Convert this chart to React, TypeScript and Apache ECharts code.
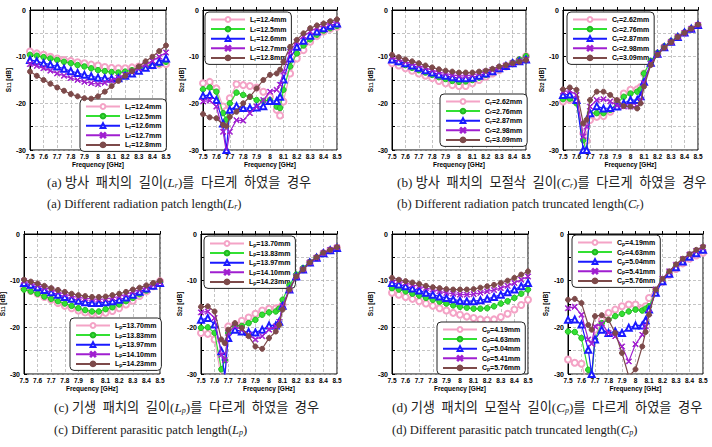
import React, { useEffect, useRef } from "react";
import * as echarts from "echarts";

// Frequency sample points (GHz)
const FREQ_S11 = [7.5, 7.55, 7.6, 7.65, 7.7, 7.75, 7.8, 7.85, 7.9, 7.95, 8.0, 8.05, 8.1, 8.15, 8.2, 8.25, 8.3, 8.35, 8.4, 8.45, 8.5];
const FREQ_S22 = [7.5, 7.55, 7.6, 7.65, 7.675, 7.7, 7.75, 7.8, 7.85, 7.9, 7.95, 8.0, 8.05, 8.075, 8.1, 8.15, 8.2, 8.25, 8.3, 8.35, 8.4, 8.45, 8.5];

// Parameter sweeps (legend entries)
const LR_NAMES = ["Lr=12.4mm", "Lr=12.5mm", "Lr=12.6mm", "Lr=12.7mm", "Lr=12.8mm"];
const CR_NAMES = ["Cr=2.62mm", "Cr=2.76mm", "Cr=2.87mm", "Cr=2.98mm", "Cr=3.09mm"];
const LP_NAMES = ["Lp=13.70mm", "Lp=13.83mm", "Lp=13.97mm", "Lp=14.10mm", "Lp=14.23mm"];
const CP_NAMES = ["Cp=4.19mm", "Cp=4.63mm", "Cp=5.04mm", "Cp=5.41mm", "Cp=5.76mm"];

// (a) radiation patch length Lr
const S11_LR = [
  [-8.9, -9.3, -9.6, -10.0, -10.4, -10.7, -10.9, -11.2, -11.4, -11.7, -11.9, -12.2, -12.4, -12.5, -12.5, -12.3, -12.1, -12.0, -11.9, -11.7, -11.6],
  [-9.6, -9.8, -10.1, -10.4, -10.7, -11.1, -11.4, -11.8, -12.1, -12.5, -12.9, -13.1, -13.3, -13.4, -13.2, -12.9, -12.5, -12.2, -11.8, -11.5, -11.1],
  [-10.7, -11.0, -11.4, -11.7, -12.1, -12.6, -13.1, -13.5, -13.9, -14.2, -14.5, -14.6, -14.7, -14.6, -14.1, -13.6, -13.0, -12.4, -11.8, -11.1, -10.4],
  [-11.6, -12.0, -12.5, -13.0, -13.6, -14.1, -14.6, -15.0, -15.4, -15.7, -15.9, -15.6, -15.1, -14.5, -13.9, -13.2, -12.5, -11.7, -10.9, -10.0, -9.1],
  [-13.2, -14.1, -15.0, -15.8, -16.6, -17.3, -18.0, -18.5, -18.9, -19.0, -18.5, -17.5, -16.3, -15.2, -14.1, -13.1, -12.1, -11.0, -10.0, -8.8, -7.6],
];
const S22_LR = [
  [-15.7, -15.4, -16.8, -20.7, -21.6, -18.9, -15.9, -16.1, -16.3, -16.6, -17.5, -18.6, -21.4, -22.6, -19.6, -13.6, -10.4, -8.6, -6.8, -5.6, -4.6, -4.0, -3.6],
  [-17.0, -16.6, -17.5, -22.1, -23.5, -20.0, -17.7, -18.2, -18.6, -19.3, -19.5, -19.3, -20.7, -21.0, -17.1, -12.1, -9.3, -7.6, -6.3, -5.3, -4.4, -3.9, -3.4],
  [-18.4, -18.2, -19.3, -24.3, -30.0, -21.4, -20.6, -21.0, -21.0, -20.9, -20.6, -19.5, -19.5, -18.6, -14.9, -10.4, -7.9, -6.6, -5.5, -4.6, -3.9, -3.4, -2.9],
  [-19.6, -19.4, -20.7, -26.1, -30.5, -26.1, -23.6, -23.7, -22.1, -20.7, -19.3, -17.5, -17.1, -16.0, -13.2, -8.9, -6.8, -5.6, -4.6, -3.8, -3.2, -2.8, -2.4],
  [-22.3, -23.0, -23.2, -24.6, -24.9, -22.9, -21.8, -20.0, -18.6, -16.8, -15.0, -13.9, -13.6, -12.8, -11.1, -7.9, -6.4, -5.0, -3.9, -3.3, -2.9, -2.4, -2.0],
];

// (b) radiation patch truncated length Cr
const S11_CR = [
  [-11.4, -11.9, -12.5, -13.0, -13.6, -14.1, -14.6, -15.2, -15.7, -16.1, -16.3, -16.3, -15.7, -15.0, -14.3, -13.6, -12.9, -12.1, -11.4, -10.7, -9.9],
  [-10.7, -11.2, -11.8, -12.4, -12.9, -13.4, -13.9, -14.4, -14.8, -15.2, -15.4, -15.3, -15.0, -14.5, -13.9, -13.3, -12.7, -12.0, -11.3, -10.6, -9.9],
  [-10.6, -11.0, -11.4, -11.9, -12.4, -12.9, -13.4, -13.8, -14.1, -14.4, -14.6, -14.6, -14.5, -14.1, -13.6, -13.1, -12.5, -12.0, -11.4, -11.0, -10.6],
  [-10.1, -10.6, -11.1, -11.5, -11.9, -12.4, -12.9, -13.3, -13.6, -13.9, -14.1, -14.1, -13.9, -13.6, -13.2, -12.8, -12.4, -11.9, -11.4, -11.0, -10.6],
  [-9.6, -10.1, -10.6, -11.0, -11.4, -11.9, -12.3, -12.7, -13.0, -13.2, -13.4, -13.4, -13.4, -13.2, -13.0, -12.6, -12.1, -11.8, -11.4, -11.1, -10.7],
];
const S22_CR = [
  [-19.6, -19.3, -19.6, -26.4, -28.0, -23.6, -22.9, -22.7, -21.8, -19.6, -17.9, -17.1, -17.0, -16.5, -13.6, -11.0, -9.3, -7.9, -6.8, -5.8, -4.9, -4.1, -3.3],
  [-19.1, -19.0, -20.0, -27.9, -30.5, -22.1, -22.1, -22.1, -21.4, -20.0, -18.6, -17.9, -17.5, -17.0, -13.6, -10.9, -9.2, -7.8, -6.7, -5.7, -4.8, -4.0, -3.2],
  [-18.2, -18.1, -19.3, -30.0, -30.0, -22.1, -20.6, -21.1, -21.0, -20.7, -20.0, -19.3, -19.3, -18.5, -15.4, -11.3, -9.4, -8.0, -6.8, -5.8, -4.8, -4.0, -3.2],
  [-17.5, -17.3, -18.2, -27.1, -25.0, -20.7, -19.3, -19.1, -19.6, -20.4, -20.7, -20.7, -20.7, -19.5, -15.7, -11.5, -9.5, -8.0, -6.9, -5.8, -4.9, -4.0, -3.2],
  [-17.0, -16.6, -17.1, -24.3, -23.5, -19.3, -17.5, -17.5, -18.2, -19.3, -20.6, -20.7, -21.1, -20.0, -16.4, -11.8, -9.6, -8.1, -6.9, -5.8, -4.9, -4.0, -3.1],
];

// (c) parasitic patch length Lp
const S11_LP = [
  [-11.6, -12.2, -12.8, -13.5, -14.1, -14.8, -15.4, -15.9, -16.4, -16.8, -17.1, -17.2, -16.9, -16.5, -15.9, -15.1, -14.3, -13.3, -12.3, -11.2, -10.1],
  [-11.9, -12.3, -12.8, -13.4, -13.9, -14.4, -14.9, -15.4, -15.9, -16.3, -16.6, -16.6, -16.1, -15.7, -15.1, -14.4, -13.7, -12.9, -12.1, -11.2, -10.3],
  [-10.5, -10.9, -11.4, -12.0, -12.5, -13.0, -13.5, -13.9, -14.3, -14.6, -14.8, -14.8, -14.6, -14.4, -14.1, -13.6, -13.0, -12.4, -11.7, -11.1, -10.5],
  [-10.1, -10.5, -11.0, -11.5, -11.9, -12.4, -12.9, -13.3, -13.6, -13.8, -13.9, -14.0, -13.9, -13.7, -13.4, -12.9, -12.4, -11.9, -11.4, -10.9, -10.4],
  [-9.8, -10.2, -10.6, -11.1, -11.6, -12.0, -12.4, -12.8, -13.1, -13.3, -13.5, -13.5, -13.4, -13.1, -12.8, -12.4, -11.9, -11.5, -11.0, -10.5, -10.0],
];
const S22_LP = [
  [-21.2, -21.4, -22.6, -31.0, -32.0, -19.8, -19.4, -18.6, -17.9, -17.1, -16.4, -16.0, -15.9, -15.8, -15.2, -11.9, -9.1, -7.6, -6.1, -5.1, -4.1, -3.5, -3.0],
  [-20.1, -20.0, -21.2, -29.0, -27.0, -21.2, -19.6, -19.7, -19.1, -18.4, -17.3, -16.8, -16.6, -16.0, -14.1, -11.0, -8.7, -7.3, -6.0, -5.0, -4.1, -3.5, -3.0],
  [-18.4, -18.0, -19.4, -25.1, -30.5, -22.3, -20.5, -20.9, -21.0, -21.1, -20.5, -19.6, -19.6, -18.8, -15.4, -11.9, -9.1, -7.6, -6.1, -5.1, -4.1, -3.5, -3.0],
  [-16.8, -16.6, -18.0, -25.9, -27.0, -21.2, -19.8, -20.5, -21.6, -22.6, -21.9, -20.5, -19.8, -18.8, -15.5, -11.9, -9.1, -7.6, -6.1, -5.1, -4.1, -3.4, -2.9],
  [-15.6, -15.5, -16.6, -22.6, -23.4, -20.5, -19.1, -20.1, -21.9, -24.1, -24.6, -22.3, -20.9, -19.5, -16.2, -11.9, -9.1, -7.6, -6.1, -5.0, -4.0, -3.4, -2.8],
];

// (d) parasitic patch truncated length Cp
const S11_CP = [
  [-12.6, -13.0, -13.5, -13.9, -14.4, -14.9, -15.4, -15.9, -16.4, -16.9, -17.3, -17.7, -18.0, -18.3, -18.4, -18.3, -17.8, -17.1, -16.2, -15.2, -14.1],
  [-11.6, -11.9, -12.3, -12.8, -13.2, -13.7, -14.1, -14.5, -14.9, -15.3, -15.6, -15.8, -16.0, -16.0, -15.9, -15.5, -14.9, -14.4, -13.7, -12.8, -11.9],
  [-10.5, -10.8, -11.2, -11.7, -12.1, -12.6, -13.0, -13.4, -13.7, -14.0, -14.3, -14.4, -14.4, -14.2, -13.9, -13.5, -13.0, -12.5, -11.9, -11.2, -10.5],
  [-9.8, -10.1, -10.5, -10.9, -11.2, -11.6, -11.9, -12.3, -12.6, -12.8, -13.0, -13.0, -12.9, -12.6, -12.3, -12.0, -11.6, -11.1, -10.5, -9.8, -9.1],
  [-9.4, -9.8, -10.1, -10.4, -10.7, -11.1, -11.4, -11.6, -11.8, -11.9, -11.9, -11.9, -11.8, -11.5, -11.2, -10.9, -10.5, -10.0, -9.4, -8.7, -8.0],
];
const S22_CP = [
  [-26.9, -27.6, -27.8, -33.0, -31.0, -20.5, -18.4, -16.9, -16.2, -15.5, -15.1, -15.1, -15.9, -15.5, -13.7, -11.6, -10.3, -8.8, -7.5, -6.3, -5.3, -4.6, -4.0],
  [-20.9, -21.0, -22.3, -29.1, -31.0, -22.6, -19.1, -18.4, -17.6, -17.1, -16.6, -16.2, -16.4, -16.0, -15.5, -12.3, -10.0, -8.4, -7.0, -5.9, -4.9, -4.1, -3.5],
  [-18.4, -18.3, -19.4, -24.8, -30.0, -22.6, -20.5, -21.2, -20.9, -21.2, -20.1, -19.6, -19.6, -18.5, -16.2, -12.6, -10.1, -8.5, -7.1, -5.9, -4.9, -4.1, -3.4],
  [-15.9, -15.6, -17.3, -22.6, -23.5, -19.8, -19.2, -21.2, -21.9, -24.1, -27.3, -23.6, -21.6, -19.8, -17.0, -11.9, -9.6, -8.0, -6.6, -5.4, -4.4, -3.6, -2.9],
  [-14.1, -13.9, -14.8, -19.5, -20.5, -17.6, -17.4, -18.4, -21.2, -25.5, -30.5, -29.0, -24.1, -21.0, -17.3, -11.9, -9.6, -8.0, -6.5, -5.3, -4.3, -3.4, -2.7],
];

// Labelled y ticks (dB)
const DB_LABELS = [0, -10, -20, -30];

const SANS = "'Liberation Sans', Arial, sans-serif";
const SERIF = "'Liberation Serif', 'Times New Roman', 'Noto Sans CJK KR', serif";

const CROSS = "path://M1,0L5,4L9,0L10,1L6,5L10,9L9,10L5,6L1,10L0,9L4,5L0,1Z";

// Trace styles, in sweep order
const TRACE_STYLES = [
  { color: "#f4a3c6", border: "#f4a3c6", symbol: "emptyCircle", size: 6 },
  { color: "#33e033", border: "#22b822", symbol: "circle", size: 5.5 },
  { color: "#1a1aff", border: "#1a1aff", symbol: "emptyTriangle", size: 6 },
  { color: "#a01fd0", border: "#a01fd0", symbol: CROSS, size: 5.5 },
  { color: "#7d4a4a", border: "#7d4a4a", symbol: "circle", size: 5 },
];

const PANELS = [
  { rect: { left: 30, top: 10, width: 136, height: 140 }, port: "11", names: LR_NAMES, freq: FREQ_S11, data: S11_LR, legend: { left: 80, top: 99 }, gap: 17 },
  { rect: { left: 203, top: 10, width: 134, height: 140 }, port: "22", names: LR_NAMES, freq: FREQ_S22, data: S22_LR, legend: { left: 205, top: 12 }, gap: 17 },
  { rect: { left: 392, top: 10, width: 134, height: 140 }, port: "11", names: CR_NAMES, freq: FREQ_S11, data: S11_CR, legend: { left: 440, top: 94 }, gap: 17 },
  { rect: { left: 563, top: 10, width: 135, height: 140 }, port: "22", names: CR_NAMES, freq: FREQ_S22, data: S22_CR, legend: { left: 567, top: 12 }, gap: 18 },
  { rect: { left: 24, top: 234, width: 136, height: 140 }, port: "11", names: LP_NAMES, freq: FREQ_S11, data: S11_LP, legend: { left: 70, top: 318 }, gap: 13 },
  { rect: { left: 201, top: 234, width: 136, height: 140 }, port: "22", names: LP_NAMES, freq: FREQ_S22, data: S22_LP, legend: { left: 204, top: 236 }, gap: 15 },
  { rect: { left: 392, top: 234, width: 136, height: 140 }, port: "11", names: CP_NAMES, freq: FREQ_S11, data: S11_CP, legend: { left: 437, top: 322 }, gap: 18 },
  { rect: { left: 568, top: 234, width: 135, height: 140 }, port: "22", names: CP_NAMES, freq: FREQ_S22, data: S22_CP, legend: { left: 572, top: 235 }, gap: 19 },
];

const CAPTIONS = [
  { x: 47, y: 184, size: 13.2, text: "(a) 방사  패치의  길이({i|L}{isub|r})를  다르게  하였을  경우" },
  { x: 47, y: 206, size: 12.6, text: "(a) Different radiation patch length({i|L}{isub|r})" },
  { x: 397, y: 184, size: 13.2, text: "(b) 방사  패치의  모절삭  길이({i|C}{isub|r})를  다르게  하였을  경우" },
  { x: 397, y: 206, size: 12.6, text: "(b) Different radiation patch truncated length({i|C}{isub|r})" },
  { x: 54, y: 409, size: 13.2, text: "(c) 기생  패치의  길이({i|L}{isub|p})를  다르게  하였을  경우" },
  { x: 54, y: 432, size: 12.6, text: "(c) Different parasitic patch length({i|L}{isub|p})" },
  { x: 392, y: 409, size: 13.2, text: "(d) 기생  패치의  모절삭  길이({i|C}{isub|p})를  다르게  하였을  경우" },
  { x: 392, y: 432, size: 12.6, text: "(d) Different parasitic patch truncated length({i|C}{isub|p})" },
];

const subRich = {
  sub: { fontSize: 5, fontWeight: "bold", fontFamily: SANS, color: "#000", verticalAlign: "bottom", lineHeight: 6, padding: [3, 0, 0, 0] },
};

function buildOption() {
  const grid: any[] = [];
  const xAxis: any[] = [];
  const yAxis: any[] = [];
  const series: any[] = [];
  const legend: any[] = [];

  PANELS.forEach((p, k) => {
    grid.push({
      ...p.rect,
      show: true,
      borderColor: "#000",
      borderWidth: 1,
      backgroundColor: "#fff",
      containLabel: false,
      outerBoundsMode: "none",
    });
    xAxis.push({
      gridIndex: k,
      type: "value",
      min: 7.5,
      max: 8.5,
      interval: 0.1,
      name: "Frequency [GHz]",
      nameLocation: "middle",
      nameGap: 11,
      nameTextStyle: { fontSize: 6.5, fontWeight: "bold", fontFamily: SANS, color: "#000" },
      axisLine: { lineStyle: { color: "#000", width: 1 } },
      axisTick: { inside: true, length: 3, lineStyle: { color: "#000" } },
      axisLabel: {
        fontSize: 6.5,
        fontWeight: "bold",
        fontFamily: SANS,
        color: "#000",
        margin: 3,
        formatter: (v: number) => String(Math.round(v * 10) / 10),
      },
      splitLine: { show: true, lineStyle: { color: "#aaa", type: [3, 2], width: 0.7 } },
    });
    yAxis.push({
      gridIndex: k,
      type: "value",
      min: -30,
      max: 0,
      interval: 5,
      name: "S{sub|" + p.port + "} [dB]",
      nameLocation: "middle",
      nameRotate: 90,
      nameGap: p.gap,
      nameTextStyle: { fontSize: 6.5, fontWeight: "bold", fontFamily: SANS, color: "#000", rich: subRich },
      axisLine: { lineStyle: { color: "#000", width: 1 } },
      axisTick: { inside: true, length: 3, lineStyle: { color: "#000" } },
      axisLabel: {
        fontSize: 7,
        fontWeight: "bold",
        fontFamily: SANS,
        color: "#000",
        margin: 4,
        formatter: (v: number) => (DB_LABELS.includes(v) ? String(v) : ""),
      },
      splitLine: { show: true, lineStyle: { color: "#aaa", type: [3, 2], width: 0.7 } },
    });
    p.data.forEach((vals, j) => {
      const st = TRACE_STYLES[j];
      series.push({
        type: "line",
        name: p.names[j],
        xAxisIndex: k,
        yAxisIndex: k,
        data: vals.map((v, i) => [p.freq[i], v]),
        symbol: st.symbol,
        symbolSize: st.size,
        showAllSymbol: true,
        clip: true,
        color: st.color,
        lineStyle: { color: st.color, width: 1.2 },
        itemStyle: { color: st.color, borderColor: st.border, borderWidth: 1 },
        emphasis: { disabled: true },
        z: 3 + j,
      });
    });
    legend.push({
      orient: "vertical",
      left: p.legend.left,
      top: p.legend.top,
      data: p.names,
      selectedMode: false,
      itemWidth: 34,
      itemHeight: 6,
      itemGap: 1.6,
      padding: [3, 5, 3, 5],
      borderColor: "#222",
      borderWidth: 1,
      borderRadius: 4,
      backgroundColor: "#fff",
      textStyle: { fontSize: 7, fontWeight: "bold", fontFamily: SANS, color: "#000", rich: subRich },
      formatter: (n: string) => n.replace(/^([LC])([rp])=/, "$1{sub|$2}="),
    });
  });

  const graphic = CAPTIONS.map((c) => ({
    type: "text",
    left: c.x,
    top: c.y - 8,
    style: {
      text: c.text,
      fontSize: c.size,
      fontFamily: SERIF,
      fill: "#222",
      rich: {
        i: { fontSize: c.size, fontStyle: "italic", fontFamily: SERIF, fill: "#222" },
        isub: { fontSize: 8, fontStyle: "italic", fontFamily: SERIF, fill: "#222", verticalAlign: "bottom", padding: [5, 0, 0, 0] },
      },
    },
  }));

  return {
    animation: false,
    backgroundColor: "#fff",
    textStyle: { fontFamily: SANS },
    grid,
    xAxis,
    yAxis,
    series,
    legend,
    graphic,
  };
}

export default function App() {
  const ref = useRef<HTMLDivElement>(null);
  useEffect(() => {
    const chart = echarts.init(ref.current!, null, { renderer: "svg" });
    chart.setOption(buildOption() as any);
    return () => chart.dispose();
  }, []);
  return (
    <div
      ref={ref}
      style={{ position: "fixed", left: 0, top: 0, width: 712, height: 447, background: "#fff" }}
    />
  );
}
